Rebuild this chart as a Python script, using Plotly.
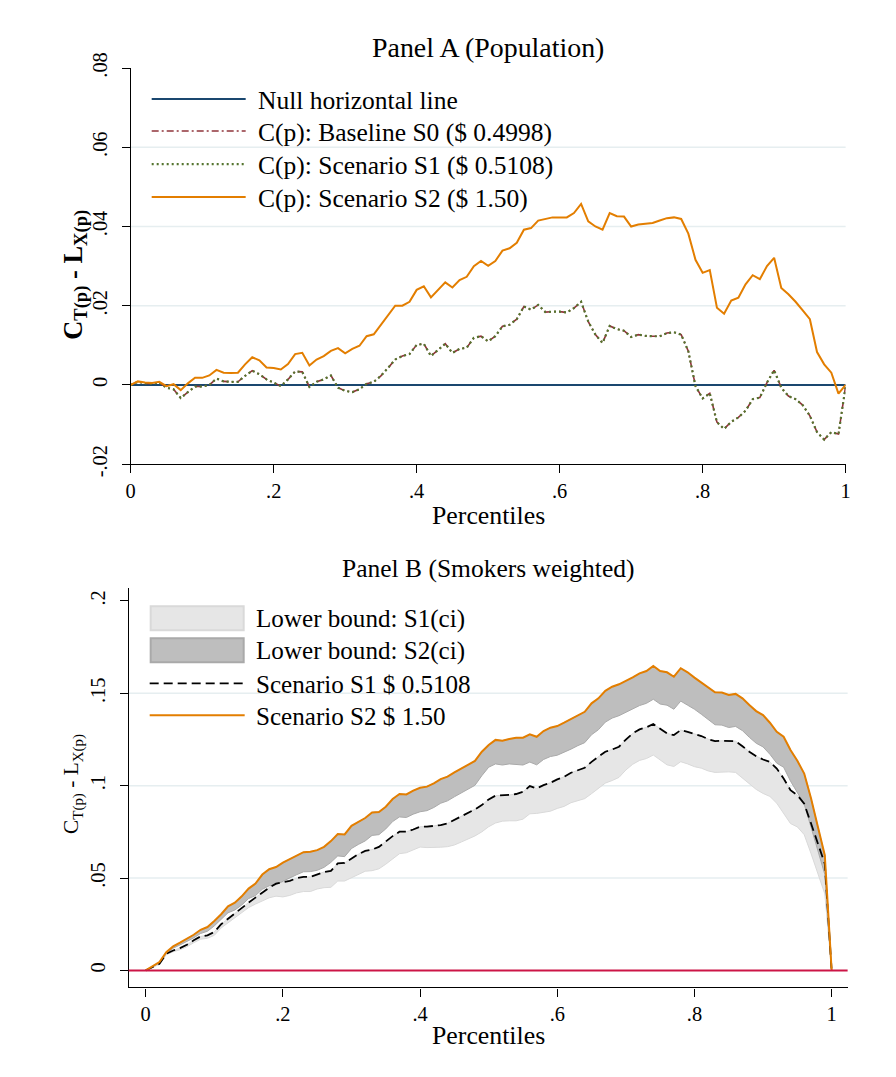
import plotly.graph_objects as go

# ---------------- data ----------------
pct = [0.00, 0.01, 0.02, 0.03, 0.04, 0.05, 0.06, 0.07, 0.08, 0.09,
       0.10, 0.11, 0.12, 0.13, 0.14, 0.15, 0.16, 0.17, 0.18, 0.19,
       0.20, 0.21, 0.22, 0.23, 0.24, 0.25, 0.26, 0.27, 0.28, 0.29,
       0.30, 0.31, 0.32, 0.33, 0.34, 0.35, 0.36, 0.37, 0.38, 0.39,
       0.40, 0.41, 0.42, 0.43, 0.44, 0.45, 0.46, 0.47, 0.48, 0.49,
       0.50, 0.51, 0.52, 0.53, 0.54, 0.55, 0.56, 0.57, 0.58, 0.59,
       0.60, 0.61, 0.62, 0.63, 0.64, 0.65, 0.66, 0.67, 0.68, 0.69,
       0.70, 0.71, 0.72, 0.73, 0.74, 0.75, 0.76, 0.77, 0.78, 0.79,
       0.80, 0.81, 0.82, 0.83, 0.84, 0.85, 0.86, 0.87, 0.88, 0.89,
       0.90, 0.91, 0.92, 0.93, 0.94, 0.95, 0.96, 0.97, 0.98, 0.99, 1.00]

# Panel A (Population)
null_x = [0.0, 1.0]
null_y = [0.0, 0.0]

a_s0 = [0.0000, 0.0008, 0.0004, 0.0003, 0.0006, -0.0007, -0.0011, -0.0033, -0.0018, -0.0004,
        -0.0004, 0.0000, 0.0016, 0.0009, 0.0008, 0.0008, 0.0023, 0.0036, 0.0027, 0.0014,
        0.0006, -0.0003, 0.0014, 0.0034, 0.0033, -0.0005, 0.0008, 0.0014, 0.0024, -0.0007,
        -0.0015, -0.0018, -0.0011, 0.0003, 0.0008, 0.0023, 0.0043, 0.0064, 0.0073, 0.0078,
        0.0101, 0.0104, 0.0073, 0.0089, 0.0104, 0.0081, 0.0091, 0.0094, 0.0119, 0.0123,
        0.0110, 0.0123, 0.0148, 0.0152, 0.0166, 0.0198, 0.0190, 0.0202, 0.0184, 0.0185,
        0.0185, 0.0183, 0.0194, 0.0210, 0.0160, 0.0127, 0.0106, 0.0149, 0.0141, 0.0137,
        0.0121, 0.0127, 0.0124, 0.0123, 0.0123, 0.0131, 0.0133, 0.0127, 0.0085, -0.0003,
        -0.0034, -0.0021, -0.0094, -0.0111, -0.0093, -0.0082, -0.0065, -0.0036, -0.0032, 0.0006,
        0.0037, -0.0007, -0.0028, -0.0036, -0.0051, -0.0078, -0.0119, -0.0138, -0.0119, -0.0124,
        -0.0003]

a_s1 = [0.0000, 0.0008, 0.0004, 0.0003, 0.0006, -0.0007, -0.0011, -0.0033, -0.0018, -0.0004,
        -0.0004, 0.0000, 0.0016, 0.0009, 0.0008, 0.0008, 0.0023, 0.0036, 0.0027, 0.0014,
        0.0006, -0.0003, 0.0014, 0.0034, 0.0033, -0.0005, 0.0008, 0.0014, 0.0024, -0.0007,
        -0.0015, -0.0018, -0.0011, 0.0003, 0.0008, 0.0023, 0.0043, 0.0064, 0.0073, 0.0078,
        0.0101, 0.0104, 0.0073, 0.0089, 0.0104, 0.0081, 0.0091, 0.0094, 0.0119, 0.0123,
        0.0110, 0.0123, 0.0148, 0.0152, 0.0166, 0.0198, 0.0190, 0.0202, 0.0184, 0.0185,
        0.0185, 0.0183, 0.0194, 0.0210, 0.0160, 0.0127, 0.0106, 0.0149, 0.0141, 0.0137,
        0.0121, 0.0127, 0.0124, 0.0123, 0.0123, 0.0131, 0.0133, 0.0127, 0.0085, -0.0003,
        -0.0034, -0.0021, -0.0094, -0.0111, -0.0093, -0.0082, -0.0065, -0.0036, -0.0032, 0.0006,
        0.0037, -0.0007, -0.0028, -0.0036, -0.0051, -0.0078, -0.0119, -0.0138, -0.0119, -0.0124,
        -0.0003]

a_s2 = [0.0000, 0.0009, 0.0006, 0.0005, 0.0008, -0.0003, 0.0002, -0.0013, 0.0004, 0.0018,
        0.0018, 0.0024, 0.0038, 0.0031, 0.0030, 0.0031, 0.0052, 0.0070, 0.0062, 0.0044,
        0.0043, 0.0039, 0.0053, 0.0078, 0.0081, 0.0049, 0.0064, 0.0073, 0.0086, 0.0093,
        0.0080, 0.0091, 0.0099, 0.0123, 0.0128, 0.0152, 0.0175, 0.0200, 0.0200, 0.0210,
        0.0240, 0.0249, 0.0221, 0.0240, 0.0259, 0.0246, 0.0265, 0.0273, 0.0300, 0.0313,
        0.0301, 0.0313, 0.0339, 0.0345, 0.0359, 0.0392, 0.0396, 0.0415, 0.0419, 0.0423,
        0.0423, 0.0423, 0.0434, 0.0457, 0.0413, 0.0400, 0.0392, 0.0434, 0.0426, 0.0425,
        0.0400, 0.0405, 0.0407, 0.0409, 0.0415, 0.0421, 0.0423, 0.0419, 0.0382, 0.0316,
        0.0283, 0.0290, 0.0195, 0.0180, 0.0213, 0.0220, 0.0254, 0.0277, 0.0267, 0.0300,
        0.0321, 0.0245, 0.0229, 0.0210, 0.0188, 0.0166, 0.0083, 0.0052, 0.0031, -0.0022,
        0.0000]

# Panel B (Smokers weighted)
b_s1 = [0.0000, 0.0018, 0.0036, 0.0090, 0.0108, 0.0121, 0.0139, 0.0163, 0.0184, 0.0190,
        0.0208, 0.0250, 0.0280, 0.0307, 0.0340, 0.0367, 0.0394, 0.0421, 0.0448, 0.0470,
        0.0476, 0.0485, 0.0499, 0.0506, 0.0506, 0.0521, 0.0533, 0.0539, 0.0579, 0.0582,
        0.0606, 0.0629, 0.0647, 0.0654, 0.0669, 0.0700, 0.0727, 0.0751, 0.0751, 0.0763,
        0.0778, 0.0778, 0.0781, 0.0787, 0.0796, 0.0814, 0.0832, 0.0850, 0.0872, 0.0895,
        0.0926, 0.0946, 0.0946, 0.0950, 0.0955, 0.0967, 0.0998, 0.0985, 0.1003, 0.1016,
        0.1034, 0.1048, 0.1070, 0.1084, 0.1097, 0.1129, 0.1157, 0.1184, 0.1196, 0.1211,
        0.1250, 0.1283, 0.1305, 0.1316, 0.1334, 0.1310, 0.1283, 0.1274, 0.1301, 0.1292,
        0.1280, 0.1269, 0.1252, 0.1241, 0.1243, 0.1243, 0.1241, 0.1214, 0.1184, 0.1160,
        0.1142, 0.1129, 0.1093, 0.1039, 0.0976, 0.0949, 0.0903, 0.0795, 0.0687, 0.0578,
        0.0000]

b_s1_lower = [0.0000, 0.0016, 0.0033, 0.0085, 0.0101, 0.0112, 0.0128, 0.0150, 0.0169, 0.0174,
              0.0190, 0.0230, 0.0258, 0.0283, 0.0315, 0.0340, 0.0359, 0.0376, 0.0393, 0.0402,
              0.0398, 0.0406, 0.0420, 0.0427, 0.0427, 0.0441, 0.0448, 0.0450, 0.0484, 0.0484,
              0.0501, 0.0522, 0.0537, 0.0540, 0.0550, 0.0575, 0.0605, 0.0632, 0.0637, 0.0652,
              0.0668, 0.0665, 0.0665, 0.0667, 0.0670, 0.0679, 0.0695, 0.0710, 0.0728, 0.0750,
              0.0778, 0.0798, 0.0808, 0.0810, 0.0810, 0.0819, 0.0848, 0.0850, 0.0855, 0.0862,
              0.0877, 0.0888, 0.0908, 0.0920, 0.0930, 0.0957, 0.0985, 0.1014, 0.1028, 0.1045,
              0.1085, 0.1116, 0.1137, 0.1147, 0.1166, 0.1140, 0.1113, 0.1104, 0.1130, 0.1118,
              0.1103, 0.1095, 0.1080, 0.1072, 0.1075, 0.1075, 0.1072, 0.1043, 0.1010, 0.0980,
              0.0958, 0.0942, 0.0905, 0.0850, 0.0795, 0.0777, 0.0735, 0.0632, 0.0524, 0.0415,
              0.0000]

b_s2 = [0.0000, 0.0022, 0.0045, 0.0099, 0.0130, 0.0150, 0.0170, 0.0193, 0.0220, 0.0235,
        0.0268, 0.0304, 0.0347, 0.0367, 0.0401, 0.0443, 0.0470, 0.0519, 0.0548, 0.0560,
        0.0584, 0.0602, 0.0622, 0.0640, 0.0642, 0.0651, 0.0669, 0.0700, 0.0738, 0.0736,
        0.0783, 0.0805, 0.0825, 0.0855, 0.0858, 0.0886, 0.0928, 0.0955, 0.0953, 0.0973,
        0.0989, 0.0995, 0.1013, 0.1036, 0.1049, 0.1072, 0.1094, 0.1116, 0.1134, 0.1184,
        0.1220, 0.1248, 0.1244, 0.1253, 0.1259, 0.1260, 0.1278, 0.1265, 0.1296, 0.1314,
        0.1323, 0.1341, 0.1361, 0.1382, 0.1400, 0.1446, 0.1473, 0.1514, 0.1536, 0.1549,
        0.1567, 0.1587, 0.1608, 0.1621, 0.1648, 0.1621, 0.1614, 0.1590, 0.1636, 0.1614,
        0.1585, 0.1560, 0.1533, 0.1506, 0.1504, 0.1491, 0.1497, 0.1473, 0.1437, 0.1404,
        0.1382, 0.1341, 0.1292, 0.1265, 0.1193, 0.1135, 0.1066, 0.0931, 0.0777, 0.0624,
        0.0000]

b_s2_lower = [0.0000, 0.0019, 0.0040, 0.0091, 0.0120, 0.0138, 0.0155, 0.0176, 0.0200, 0.0212,
              0.0241, 0.0274, 0.0312, 0.0327, 0.0354, 0.0389, 0.0405, 0.0439, 0.0458, 0.0465,
              0.0484, 0.0500, 0.0518, 0.0534, 0.0535, 0.0542, 0.0558, 0.0585, 0.0620, 0.0616,
              0.0660, 0.0682, 0.0701, 0.0731, 0.0735, 0.0766, 0.0806, 0.0831, 0.0828, 0.0846,
              0.0859, 0.0865, 0.0882, 0.0905, 0.0918, 0.0940, 0.0962, 0.0984, 0.1002, 0.1054,
              0.1100, 0.1118, 0.1112, 0.1118, 0.1117, 0.1112, 0.1128, 0.1113, 0.1142, 0.1158,
              0.1165, 0.1180, 0.1198, 0.1217, 0.1233, 0.1276, 0.1303, 0.1344, 0.1366, 0.1379,
              0.1397, 0.1415, 0.1434, 0.1446, 0.1468, 0.1442, 0.1436, 0.1414, 0.1458, 0.1436,
              0.1414, 0.1387, 0.1358, 0.1330, 0.1328, 0.1315, 0.1321, 0.1298, 0.1262, 0.1230,
              0.1210, 0.1170, 0.1122, 0.1100, 0.1025, 0.0960, 0.0900, 0.0775, 0.0640, 0.0520,
              0.0000]

a_ticks = [-0.02, 0.0, 0.02, 0.04, 0.06, 0.08]
a_ticktext = ["-.02", "0", ".02", ".04", ".06", ".08"]
b_ticks = [0.0, 0.05, 0.10, 0.15, 0.20]
b_ticktext = ["0", ".05", ".1", ".15", ".2"]
x_ticks = [0.0, 0.2, 0.4, 0.6, 0.8, 1.0]
x_ticktext = ["0", ".2", ".4", ".6", ".8", "1"]
a_grid = [0.02, 0.04, 0.06]
b_grid = [0.05, 0.10, 0.15]

legend_a = ["Null horizontal line", "C(p): Baseline S0 ($ 0.4998)",
            "C(p): Scenario S1 ($ 0.5108)", "C(p): Scenario S2 ($ 1.50)"]
legend_b = ["Lower bound: S1(ci)", "Lower bound: S2(ci)",
            "Scenario S1 $ 0.5108", "Scenario S2 $ 1.50"]

# ---------------- page calibration ----------------
# measured: screenshot_px = OFF + S * figure_px  (per direction)
SX, OX = 0.989, 4.3
SY, OY = 0.973, 16.0
W, H = 902, 1091
FONT = "Liberation Serif"
NAVY = "#1a476f"
MAROON = "#90353b"
GREEN = "#55752f"
ORANGE = "#e37e00"
RED = "#cc1546"
GRID = "#e6eef0"
LIGHT_FILL, LIGHT_EDGE = "#e6e6e6", "#d9d9d9"
DARK_FILL, DARK_EDGE = "#bebebe", "#a9a9a9"


def fx(p):
    """target screenshot x pixel -> paper fraction"""
    return (p - OX) / SX / W


def fy(p):
    """target screenshot y pixel -> paper fraction"""
    return 1 - (p - OY) / SY / H


def fs(size):
    return round(size / ((SX + SY) / 2), 1)


fig = go.Figure()

# Panel A traces
fig.add_trace(go.Scatter(x=null_x, y=null_y, mode="lines", line=dict(color=NAVY, width=2),
                         xaxis="x", yaxis="y", showlegend=False))
fig.add_trace(go.Scatter(x=pct, y=a_s0, mode="lines",
                         line=dict(color=MAROON, width=1.6, dash="7px,3px,2px,3px"),
                         xaxis="x", yaxis="y", showlegend=False))
fig.add_trace(go.Scatter(x=pct, y=a_s1, mode="lines",
                         line=dict(color=GREEN, width=2.2, dash="2px,3px"),
                         xaxis="x", yaxis="y", showlegend=False))
fig.add_trace(go.Scatter(x=pct, y=a_s2, mode="lines", line=dict(color=ORANGE, width=2),
                         xaxis="x", yaxis="y", showlegend=False))

# Panel B traces
fig.add_trace(go.Scatter(x=pct, y=b_s1_lower, mode="lines", line=dict(color=LIGHT_EDGE, width=1),
                         xaxis="x2", yaxis="y2", showlegend=False))
fig.add_trace(go.Scatter(x=pct, y=b_s1, mode="lines", line=dict(color=LIGHT_EDGE, width=1),
                         fill="tonexty", fillcolor=LIGHT_FILL,
                         xaxis="x2", yaxis="y2", showlegend=False))
fig.add_trace(go.Scatter(x=pct, y=b_s2_lower, mode="lines", line=dict(color=DARK_EDGE, width=1),
                         xaxis="x2", yaxis="y2", showlegend=False))
fig.add_trace(go.Scatter(x=pct, y=b_s2, mode="lines", line=dict(color=DARK_EDGE, width=1),
                         fill="tonexty", fillcolor=DARK_FILL,
                         xaxis="x2", yaxis="y2", showlegend=False))
fig.add_trace(go.Scatter(x=pct, y=b_s1, mode="lines",
                         line=dict(color="black", width=1.8, dash="9px,5px"),
                         xaxis="x2", yaxis="y2", showlegend=False))
fig.add_trace(go.Scatter(x=pct, y=b_s2, mode="lines", line=dict(color=ORANGE, width=2),
                         xaxis="x2", yaxis="y2", showlegend=False))

shapes = []
for g in a_grid:
    shapes.append(dict(type="line", xref="x domain", yref="y", x0=0, x1=1, y0=g, y1=g,
                       line=dict(color=GRID, width=1.5), layer="below"))
for g in b_grid:
    shapes.append(dict(type="line", xref="x2 domain", yref="y2", x0=0, x1=1, y0=g, y1=g,
                       line=dict(color=GRID, width=1.5), layer="below"))
# zero reference line of panel B
shapes.append(dict(type="line", xref="x2 domain", yref="y2", x0=0, x1=1, y0=0, y1=0,
                   line=dict(color=RED, width=2), layer="above"))

annotations = []
# ----- legend panel A -----
rows_a = [99, 131, 164, 197]
styles_a = [dict(color=NAVY, width=2), dict(color=MAROON, width=1.6, dash="7px,3px,2px,3px"),
            dict(color=GREEN, width=2.2, dash="2px,3px"), dict(color=ORANGE, width=2)]
for r, st, t in zip(rows_a, styles_a, legend_a):
    shapes.append(dict(type="line", xref="paper", yref="paper", x0=fx(151), x1=fx(245),
                       y0=fy(r), y1=fy(r), line=st))
    annotations.append(dict(text=t, xref="paper", yref="paper", x=fx(255), y=fy(r + 1),
                            xanchor="left", yanchor="middle", showarrow=False,
                            font=dict(family=FONT, size=fs(25.0), color="black")))

# ----- legend panel B -----
shapes.append(dict(type="rect", xref="paper", yref="paper", x0=fx(150), x1=fx(243),
                   y0=fy(630), y1=fy(606), fillcolor=LIGHT_FILL, line=dict(color=LIGHT_EDGE, width=2)))
shapes.append(dict(type="rect", xref="paper", yref="paper", x0=fx(150), x1=fx(243),
                   y0=fy(662), y1=fy(638), fillcolor=DARK_FILL, line=dict(color=DARK_EDGE, width=2)))
shapes.append(dict(type="line", xref="paper", yref="paper", x0=fx(149), x1=fx(244),
                   y0=fy(683), y1=fy(683), line=dict(color="black", width=1.8, dash="9px,5px")))
shapes.append(dict(type="line", xref="paper", yref="paper", x0=fx(149), x1=fx(244),
                   y0=fy(715), y1=fy(715), line=dict(color=ORANGE, width=2)))
rows_b = [618, 650, 683, 715]
for r, t in zip(rows_b, legend_b):
    annotations.append(dict(text=t, xref="paper", yref="paper", x=fx(253), y=fy(r + 1),
                            xanchor="left", yanchor="middle", showarrow=False,
                            font=dict(family=FONT, size=fs(24.6), color="black")))

# ----- titles -----
annotations.append(dict(text="Panel A (Population)", xref="paper", yref="paper",
                        x=fx(487.5), y=fy(47), xanchor="center", yanchor="middle", showarrow=False,
                        font=dict(family=FONT, size=fs(27.4), color="black")))
annotations.append(dict(text="Panel B (Smokers weighted)", xref="paper", yref="paper",
                        x=fx(487.5), y=fy(568), xanchor="center", yanchor="middle", showarrow=False,
                        font=dict(family=FONT, size=fs(25.0), color="black")))
annotations.append(dict(text="Percentiles", xref="paper", yref="paper",
                        x=fx(487.5), y=fy(515), xanchor="center", yanchor="middle", showarrow=False,
                        font=dict(family=FONT, size=fs(25.3), color="black")))
annotations.append(dict(text="Percentiles", xref="paper", yref="paper",
                        x=fx(487.5), y=fy(1035), xanchor="center", yanchor="middle", showarrow=False,
                        font=dict(family=FONT, size=fs(25.3), color="black")))
annotations.append(dict(text="<b>C<sub>T(p)</sub> - L<sub>X(p)</sub></b>", xref="paper", yref="paper",
                        x=fx(74), y=fy(275), xanchor="center", yanchor="middle", textangle=-90,
                        showarrow=False, font=dict(family=FONT, size=fs(26), color="black")))
annotations.append(dict(text="C<sub>T(p)</sub> - L<sub>X(p)</sub>", xref="paper", yref="paper",
                        x=fx(72), y=fy(784), xanchor="center", yanchor="middle", textangle=-90,
                        showarrow=False, font=dict(family=FONT, size=fs(21), color="black")))

axis_common = dict(showline=True, linecolor="black", linewidth=1.3, ticks="outside", ticklen=8,
                   tickcolor="black", tickwidth=1.3, showgrid=False, zeroline=False,
                   tickfont=dict(family=FONT, size=fs(20), color="black"))

fig.update_layout(
    width=W, height=H, autosize=False,
    margin=dict(l=0, r=0, t=0, b=0),
    paper_bgcolor="white", plot_bgcolor="white",
    showlegend=False,
    xaxis=dict(domain=[fx(130), fx(845)], range=[0, 1], anchor="y",
               tickvals=x_ticks, ticktext=x_ticktext, **axis_common),
    yaxis=dict(domain=[fy(464), fy(68)], range=[-0.02, 0.08], anchor="x",
               tickvals=a_ticks, ticktext=a_ticktext, tickangle=-90, ticklabelstandoff=6,
               **axis_common),
    xaxis2=dict(domain=[fx(128), fx(847)], range=[-0.0248, 1.0233], anchor="y2",
                tickvals=x_ticks, ticktext=x_ticktext, **axis_common),
    yaxis2=dict(domain=[fy(987), fy(588)], range=[-0.0092, 0.2069], anchor="x2",
                tickvals=b_ticks, ticktext=b_ticktext, tickangle=-90, ticklabelstandoff=6,
                **axis_common),
    shapes=shapes,
    annotations=annotations,
)

fig.write_html("out.html")
